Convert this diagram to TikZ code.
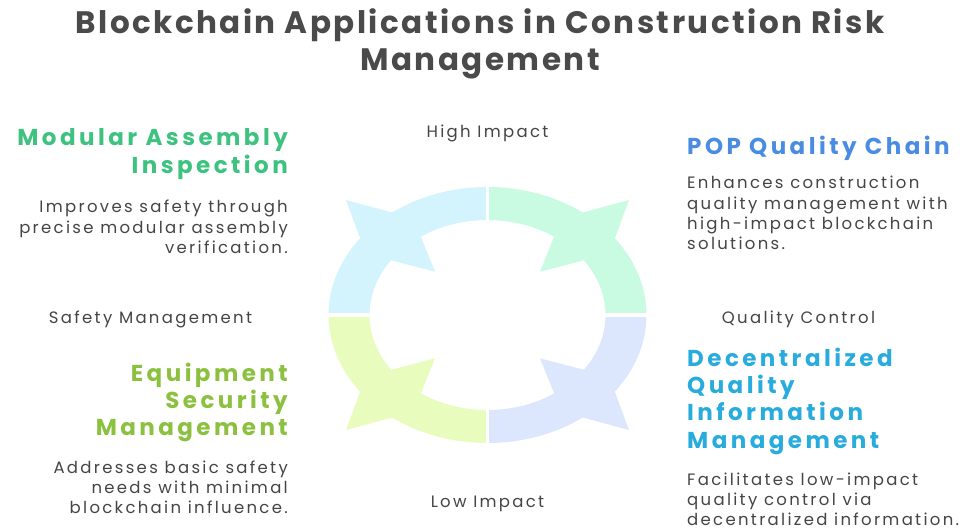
\documentclass[tikz,border=0pt]{standalone}
\usepackage{fontspec}
\setmainfont{Poppins}
\newfontfamily\titlefont{Poppins}[LetterSpace=8]
\newfontfamily\headfont{Poppins}[LetterSpace=15]
\newfontfamily\bodyfont{Poppins}[LetterSpace=14]
\definecolor{titlegray}{HTML}{4A4A4A}
\definecolor{bodygray}{HTML}{454545}
\definecolor{modgreen}{HTML}{3DC27F}
\definecolor{popblue}{HTML}{4A8CE2}
\definecolor{decblue}{HTML}{28ABDD}
\definecolor{equipgreen}{HTML}{8BC13F}
\definecolor{qblue}{HTML}{D3F3FD}
\definecolor{qgreen}{HTML}{C8FBE2}
\definecolor{qyellow}{HTML}{E8FCBE}
\definecolor{qlav}{HTML}{DCE7FD}
\tikzset{
  titletext/.style={font=\titlefont\bfseries\fontsize{31}{37}\selectfont, text=titlegray, align=center, inner sep=0pt},
  headtext/.style={font=\headfont\bfseries\fontsize{23}{27.3}\selectfont, inner sep=0pt},
  bodytext/.style={font=\bodyfont\fontsize{16.5}{20.3}\selectfont, text=bodygray, inner sep=0pt},
  axistext/.style={font=\bodyfont\fontsize{16.5}{20}\selectfont, text=bodygray, inner sep=0pt},
}
\newcommand{\quadshape}{%
  (90:159pt and 128pt) arc[start angle=90, end angle=126.8, x radius=159pt, y radius=128pt]
  -- (-141.5,115) -- (143.2:159pt and 128pt)
  arc[start angle=143.2, end angle=180, x radius=159pt, y radius=128pt]
  -- (180:118pt and 95pt)
  arc[start angle=180, end angle=144.8, x radius=118pt, y radius=95pt]
  -- (-52.5,43.3) -- (124.4:118pt and 95pt)
  arc[start angle=124.4, end angle=90, x radius=118pt, y radius=95pt] -- cycle}
\begin{document}
\begin{tikzpicture}[x=1pt,y=1pt]
\fill[white] (0,0) rectangle (960,-531);
\useasboundingbox (0,0) rectangle (960,-531);
% ring
\begin{scope}[shift={(487.5,-315)}]
  \fill[qblue] \quadshape;
  \begin{scope}[xscale=-1]\fill[qgreen] \quadshape;\end{scope}
  \begin{scope}[yscale=-1]\fill[qyellow] \quadshape;\end{scope}
  \begin{scope}[xscale=-1,yscale=-1]\fill[qlav] \quadshape;\end{scope}
  \coordinate (rt) at (0,132);
  \coordinate (rb) at (0,-132);
  \coordinate (rl) at (-162,0);
  \coordinate (rr) at (162,0);
  \draw[white, line width=3.2pt] (rt) -- (rb) (rl) -- (rr);
\end{scope}
% title
\node[titletext, anchor=north] (title) at (480,-8) {Blockchain Applications in Construction Risk\\Management};
% axis labels
\node[axistext, anchor=center] (high) at (487.5,-133.5) {High Impact};
\node[axistext, anchor=center] (low) at (487.5,-503.5) {Low Impact};
\node[axistext, anchor=center] (safety) at (150.5,-319) {Safety Management};
\node[axistext, anchor=center] (qc) at (798.5,-319) {Quality Control};
% left top
\node[headtext, text=modgreen, align=right, anchor=north east] (mod) at (288,-128.5) {Modular Assembly\\Inspection};
\node[bodytext, align=right, anchor=north east] (modd) at (288,-200) {Improves safety through\\precise modular assembly\\verification.};
% right top
\node[headtext, text=popblue, align=left, anchor=north west] (pop) at (687,-135.5) {POP Quality Chain};
\node[bodytext, align=left, anchor=north west] (popd) at (687,-176) {Enhances construction\\quality management with\\high-impact blockchain\\solutions.};
% left bottom
\node[headtext, text=equipgreen, align=right, anchor=north east] (eq) at (288,-362.5) {Equipment\\Security\\Management};
\node[bodytext, align=right, anchor=north east] (eqd) at (288,-460.5) {Addresses basic safety\\needs with minimal\\blockchain influence.};
% right bottom
\node[headtext, text=decblue, align=left, anchor=north west] (dec) at (687,-347.5) {Decentralized\\Quality\\Information\\Management};
\node[bodytext, align=left, anchor=north west, font=\bodyfont\fontsize{16.5}{20}\selectfont] (decd) at (687,-472.5) {Facilitates low-impact\\quality control via\\decentralized information.};
\end{tikzpicture}
\end{document}
